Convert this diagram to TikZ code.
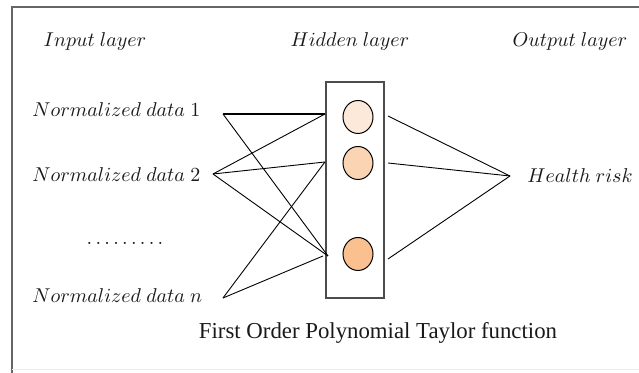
\documentclass[tikz,border=0pt]{standalone}
\usepackage{fontspec}
\setmainfont{Liberation Serif}
\newfontfamily\capfont{Liberation Serif}
\usetikzlibrary{positioning, shapes.geometric}
\definecolor{tintA}{HTML}{FDE9D9}
\definecolor{tintB}{HTML}{FBD4B4}
\definecolor{tintC}{HTML}{FAC090}

\begin{document}
\begin{tikzpicture}[x=0.5pt,y=-0.5pt,
  lbl/.style={font=\fontsize{10.3}{12}\selectfont, inner sep=0pt, text=black!90},
  neuron/.style={ellipse, draw, minimum width=15pt, minimum height=16.5pt, inner sep=0pt, line width=0.5pt},
  link/.style={line width=0.45pt}]
\useasboundingbox (0,0) rectangle (639,373);
\draw[black!60, line width=0.8pt] (639,7) -- (12,7) -- (12,373);
\draw[black!8] (12,369) -- (639,369);

% layer titles
\node[lbl] (inl) at (95,42) {$Input\ layer$};
\node[lbl] (hidl) at (350,42) {$Hidden\ layer$};
\node[lbl] (outl) at (570,42) {$Output\ layer$};

% input side
\node[lbl, anchor=west] (d1) at (32,110) {$Normalized\ data\ 1$};
\node[lbl, anchor=west] (d2) at (32,175) {$Normalized\ data\ 2$};
\node[lbl] (dots) at (125,243) {$\ldots\ldots\ldots$};
\node[lbl, anchor=west] (dn) at (32,296) {$Normalized\ data\ n$};
\coordinate (i1) at (223,114);
\coordinate (i2) at (213,174);
\coordinate (in) at (223,298);

% hidden layer
\node[draw, black!70, line width=0.6pt, minimum width=29pt, minimum height=108pt] (hid) at (355,190) {};
\node[neuron, fill=tintA] (h1) at (358,117) {};
\node[neuron, fill=tintB] (h2) at (358,163) {};
\node[neuron, fill=tintC] (h3) at (358,254) {};
\coordinate (e1) at (325,114);
\coordinate (e2) at (325,162);
\coordinate (e3) at (328,256);
\coordinate (e3n) at (323,256);
\coordinate (o1) at (388,116);
\coordinate (o2) at (388,163);
\coordinate (o3) at (388,259);

% output side
\coordinate (out) at (510,176);
\node[lbl, anchor=west] (risk) at (527,176) {$Health\ risk$};

\node[font=\capfont\fontsize{11.4}{13}\selectfont, text=black!90] (cap) at (378,333) {First Order Polynomial Taylor function};

\draw[link, line width=0.7pt] (i1) -- (e1);
\draw[link] (i1) -- (e3);
\draw[link] (i2) -- (e1);
\draw[link] (i2) -- (e2);
\draw[link] (i2) -- (e3);
\draw[link] (in) -- (e2);
\draw[link] (in) -- (e3n);
\draw[link] (o1) -- (out);
\draw[link] (o2) -- (out);
\draw[link] (o3) -- (out);
\end{tikzpicture}
\end{document}
